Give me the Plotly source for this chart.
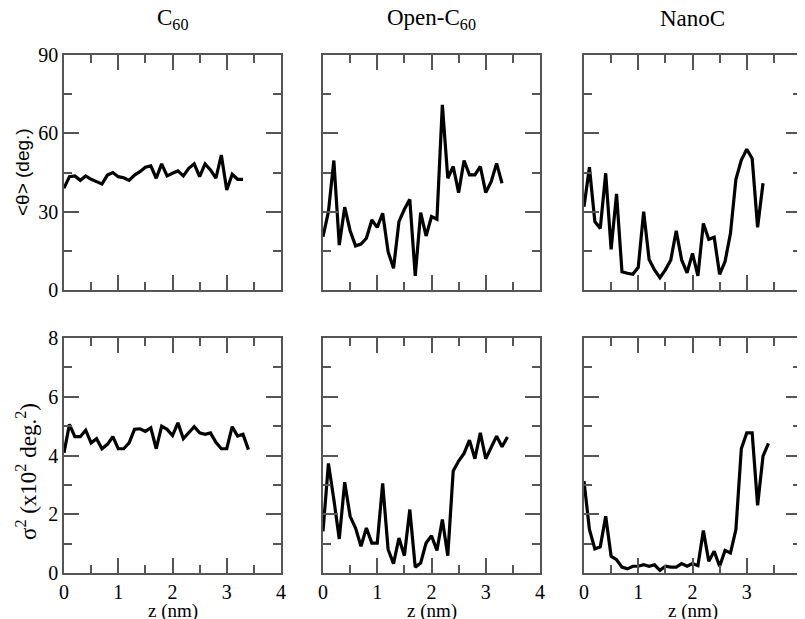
import plotly.graph_objects as go
from plotly.subplots import make_subplots

# ---- data ----
z_short = [0.0, 0.1, 0.2, 0.3, 0.4, 0.5, 0.6, 0.7, 0.8, 0.9, 1.0, 1.1, 1.2, 1.3, 1.4, 1.5, 1.6,
           1.7, 1.8, 1.9, 2.0, 2.1, 2.2, 2.3, 2.4, 2.5, 2.6, 2.7, 2.8, 2.9, 3.0, 3.1, 3.2, 3.3]
z_long = [0.0, 0.1, 0.2, 0.3, 0.4, 0.5, 0.6, 0.7, 0.8, 0.9, 1.0, 1.1, 1.2, 1.3, 1.4, 1.5, 1.6,
          1.7, 1.8, 1.9, 2.0, 2.1, 2.2, 2.3, 2.4, 2.5, 2.6, 2.7, 2.8, 2.9, 3.0, 3.1, 3.2, 3.3, 3.4]

theta_c60 = [39, 43.4, 43.7, 42, 43.7, 42.4, 41.5, 40.6, 44, 45, 43.4, 43, 42, 44, 45.3, 47, 47.5,
             42.8, 48.3, 43.7, 44.7, 45.6, 43.7, 46.6, 48.3, 43.4, 48.3, 46, 42.8, 51.7, 38.3, 44.3,
             42.4, 42.4]
theta_open = [20.4, 30, 49.6, 17.2, 31.7, 22.7, 16.9, 17.6, 19.8, 26.8, 24, 29.4, 14.7, 8.3, 26.2,
              30.9, 34.7, 5.4, 29.6, 20.7, 28.1, 27.1, 70.9, 42.8, 47.3, 37.3, 49.6, 44.1, 44.1,
              47.3, 37.3, 41.5, 48.5, 40.9]
theta_nano = [31.9, 47, 26.2, 23.6, 44.7, 15.6, 36.8, 7, 6.4, 6, 8.7, 30, 11.7, 7.7, 4.7, 7.7, 11.5,
              22.7, 11.5, 6.6, 14, 5.4, 25.5, 19.4, 20.2, 6, 10.9, 21.7, 42.4, 49.8, 53.9, 50.4,
              24, 40.9]

sig_c60 = [4.09, 5.06, 4.64, 4.64, 4.86, 4.43, 4.57, 4.23, 4.38, 4.64, 4.23, 4.23, 4.43, 4.89, 4.91,
           4.82, 4.94, 4.23, 5.0, 4.89, 4.68, 5.11, 4.57, 4.77, 4.98, 4.77, 4.72, 4.77, 4.45, 4.23,
           4.23, 4.98, 4.66, 4.72, 4.2]
sig_open = [1.42, 3.73, 2.5, 1.16, 3.09, 1.93, 1.53, 0.91, 1.53, 1.02, 1.02, 3.05, 0.8, 0.32, 1.19,
            0.59, 2.16, 0.2, 0.34, 1.02, 1.27, 0.77, 1.82, 0.59, 3.47, 3.81, 4.07, 4.52, 3.89, 4.77,
            3.89, 4.3, 4.66, 4.3, 4.63]
sig_nano = [3.13, 1.48, 0.82, 0.89, 1.93, 0.57, 0.45, 0.2, 0.14, 0.23, 0.23, 0.28, 0.23, 0.28, 0.09,
            0.23, 0.2, 0.2, 0.32, 0.23, 0.32, 0.25, 1.45, 0.4, 0.74, 0.23, 0.77, 0.68, 1.48, 4.23,
            4.77, 4.77, 2.3, 3.98, 4.41]

col_titles = ["C<sub>60</sub>", "Open-C<sub>60</sub>", "NanoC"]
x_ticks = [0, 1, 2, 3, 4]
theta_ticks = [0, 30, 60, 90]
sig_ticks = [0, 2, 4, 6, 8]

OFF = 8  # page body margin
W, H = 805 - OFF, 619 - OFF
fig = make_subplots(rows=2, cols=3)

top = [theta_c60, theta_open, theta_nano]
bot = [sig_c60, sig_open, sig_nano]
for c in range(3):
    fig.add_trace(go.Scatter(x=z_short, y=top[c], mode="lines",
                             line=dict(color="black", width=3.2), showlegend=False), row=1, col=c + 1)
    fig.add_trace(go.Scatter(x=z_long, y=bot[c], mode="lines",
                             line=dict(color="black", width=3.2), showlegend=False), row=2, col=c + 1)

xdom_px = [(64, 281), (323, 540), (584, 801)]
ydom_px = [(55, 290), (338, 573)]
serif = "Liberation Serif"
axcol = "#555555"

def px(v):
    return (v - OFF) / W

def py(v):
    return 1 - (v - OFF) / H

def axstyle():
    return dict(showline=True, linecolor=axcol, linewidth=1.5, mirror="ticks",
                ticks="inside", ticklen=15, tickwidth=1.5, tickcolor=axcol,
                showgrid=False, zeroline=False, automargin=False,
                tickfont=dict(family=serif, size=20, color="black"))

for r in range(2):
    for c in range(3):
        idx = r * 3 + c + 1
        xa = axstyle()
        xa.update(domain=[px(xdom_px[c][0]), px(xdom_px[c][1])], range=[0, 4],
                  tickvals=x_ticks, showticklabels=(r == 1),
                  minor=dict(dtick=0.5, ticks="inside", ticklen=8, tickwidth=1.5, tickcolor=axcol))
        ya = axstyle()
        y0, y1 = ydom_px[r]
        if r == 0:
            ya.update(range=[0, 90], tickvals=theta_ticks,
                      minor=dict(dtick=15, ticks="inside", ticklen=8, tickwidth=1.5, tickcolor=axcol))
        else:
            ya.update(range=[0, 8], tickvals=sig_ticks,
                      minor=dict(dtick=1, ticks="inside", ticklen=8, tickwidth=1.5, tickcolor=axcol))
        ya.update(domain=[py(y1), py(y0)], showticklabels=(c == 0))
        fig.layout["xaxis" + ("" if idx == 1 else str(idx))].update(xa)
        fig.layout["yaxis" + ("" if idx == 1 else str(idx))].update(ya)

ann = []
for c in range(3):
    xc = px((xdom_px[c][0] + xdom_px[c][1]) / 2)
    ann.append(dict(text=col_titles[c], x=xc, y=py(19), xref="paper", yref="paper",
                    showarrow=False, font=dict(family=serif, size=23, color="black"),
                    xanchor="center", yanchor="middle"))
    ann.append(dict(text="z (nm)", x=xc, y=py(611), xref="paper", yref="paper",
                    showarrow=False, font=dict(family=serif, size=19, color="black"),
                    xanchor="center", yanchor="middle"))

ann.append(dict(text="&lt;θ&gt; (deg.)", x=px(22), y=py(172), xref="paper", yref="paper",
                textangle=-90, showarrow=False,
                font=dict(family="Liberation Sans", size=19, color="black"),
                xanchor="center", yanchor="middle"))
ann.append(dict(text="σ<sup>2</sup> (x10<sup>2</sup> deg.<sup>2</sup>)", x=px(26), y=py(472),
                xref="paper", yref="paper", textangle=-90, showarrow=False,
                font=dict(family=serif, size=23, color="black"),
                xanchor="center", yanchor="middle"))

fig.update_layout(width=W, height=H, margin=dict(l=0, r=0, t=0, b=0),
                  paper_bgcolor="white", plot_bgcolor="white", annotations=ann)

fig.write_html("out.html")
